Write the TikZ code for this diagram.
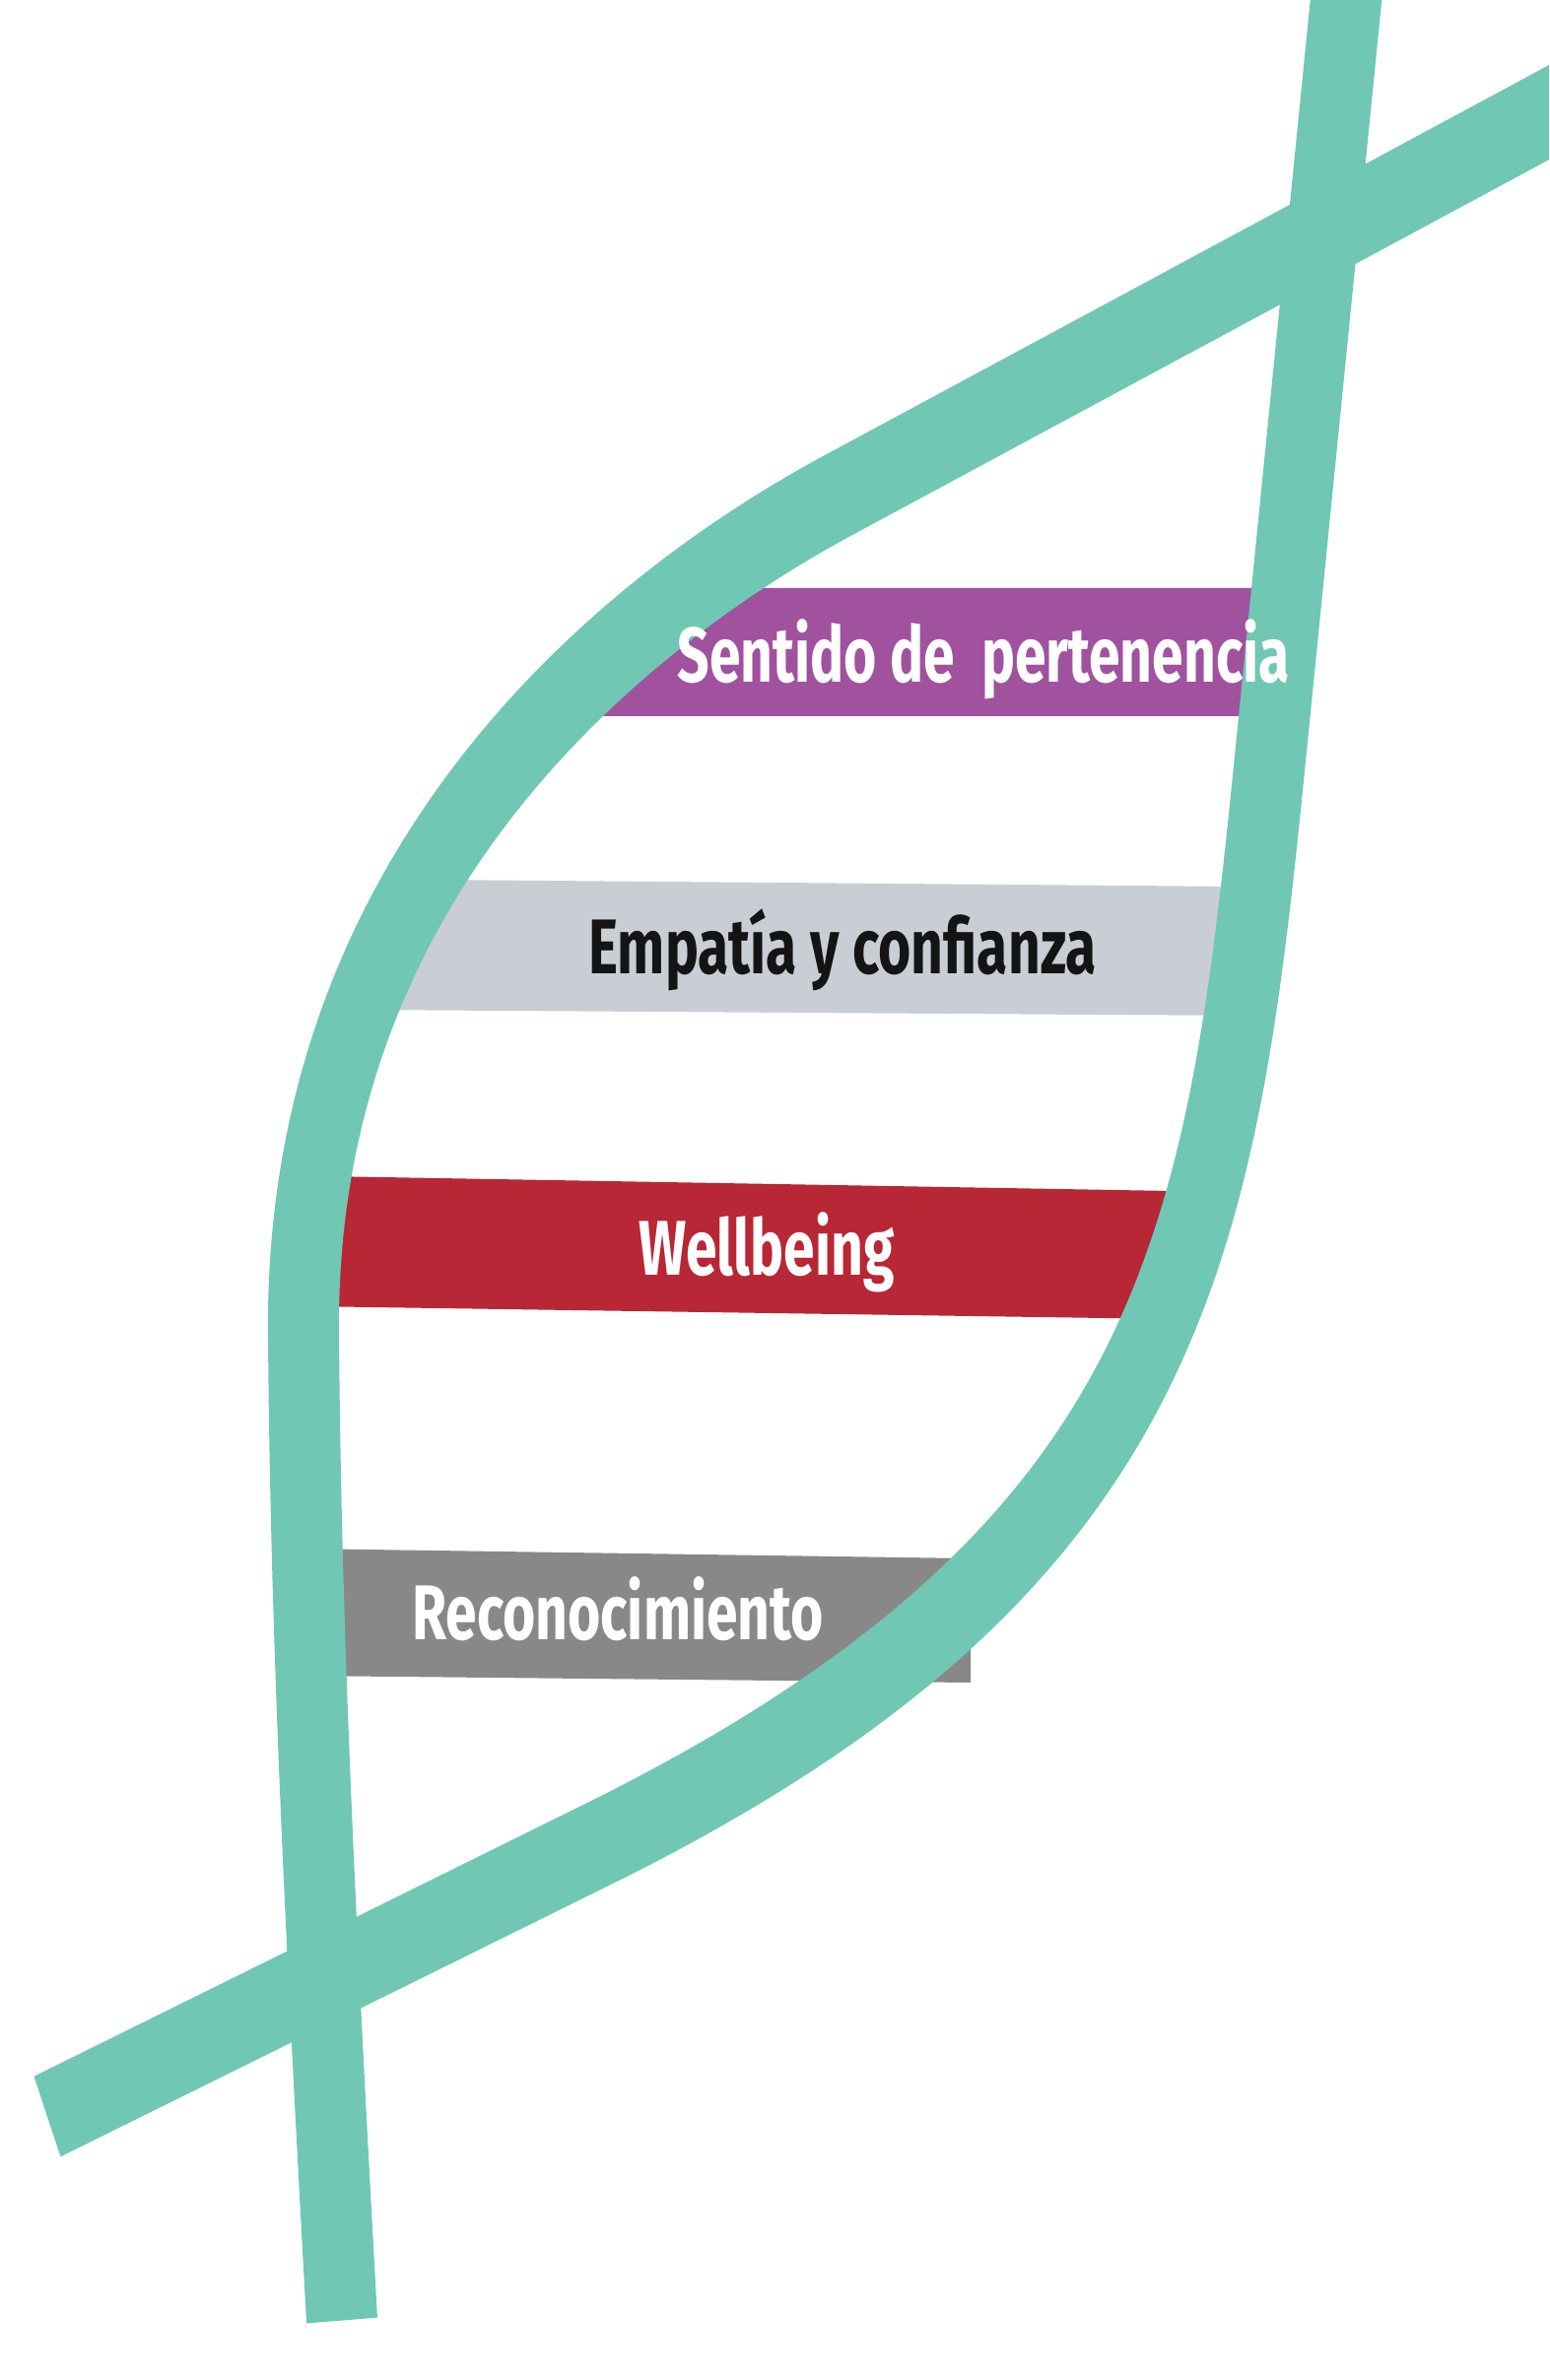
\documentclass[tikz,border=0pt]{standalone}
\usepackage{fontspec}
\setmainfont{Fira Sans}
\definecolor{helix}{HTML}{70C7B4}
\definecolor{barpurple}{HTML}{A0529E}
\definecolor{barlight}{HTML}{C8CED3}
\definecolor{barred}{HTML}{B72735}
\definecolor{bardark}{HTML}{888888}
\definecolor{inkdark}{HTML}{141414}
\newcommand{\lbl}[1]{\scalebox{0.81}[1.12]{\bfseries #1}}
\tikzset{
  strand/.style={draw=helix, line width=0.72cm, line cap=butt, line join=round},
  label/.style={anchor=base, inner sep=0pt, font=\fontsize{20pt}{24pt}\selectfont}
}
\begin{document}
\begin{tikzpicture}[x=0.01cm,y=-0.01cm]
\useasboundingbox (0,0) rectangle (1572,2416);
\clip (0,0) rectangle (1572,2416);
% bars (behind the strands)
\fill[barpurple] (716,597) -- (1300,597) -- (1300,727) -- (571,727) -- cycle;
\fill[barlight] (436,893) -- (1262,900) -- (1262,1031) -- (360,1025) -- cycle;
\fill[barred] (330,1194) -- (1190,1209) -- (1190,1339) -- (310,1326) -- cycle;
\fill[bardark] (305,1572) -- (985,1582) -- (985,1708) -- (305,1701) -- cycle;
% strands
\begin{scope}[transform canvas={yscale=1.22}, y={(0cm,-0.0081967cm)}]
\coordinate (s1top) at (1372,-60);
\coordinate (s1a) at (1290,760);
\coordinate (s1b) at (600,1875);
\coordinate (s1end) at (48,2148);
\draw[strand] (s1top) -- (s1a)
  .. controls (1240,1260) and (1200,1581) .. (s1b) -- (s1end);
\coordinate (s2top) at (1650,72);
\coordinate (s2a) at (850,503);
\coordinate (s2b) at (308,1350);
\coordinate (s2end) at (347,2355);
\draw[strand] (s2top) -- (s2a)
  .. controls (680,595) and (305,850) .. (s2b)
  .. controls (310,1650) and (325,1955) .. (s2end);
\end{scope}
% labels
\node[label, text=white] (t1) at (998,693) {\lbl{Sentido de~~pertenencia}};
\node[label, text=inkdark] (t2) at (855,988) {\lbl{Empatía y confianza}};
\node[label, text=white] (t3) at (778,1294) {\lbl{Wellbeing}};
\node[label, text=white] (t4) at (627,1664) {\lbl{Reconocimiento}};
\end{tikzpicture}
\end{document}
